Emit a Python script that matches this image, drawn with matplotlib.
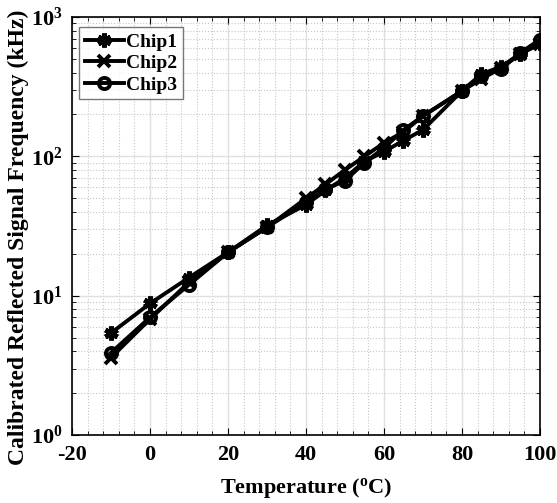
import matplotlib.pyplot as plt
import numpy as np
from matplotlib.ticker import MultipleLocator, LogLocator, NullFormatter

plt.rcParams['font.family'] = ['Liberation Serif', 'DejaVu Serif']
plt.rcParams['font.weight'] = 'bold'
plt.rcParams['axes.unicode_minus'] = False
plt.rcParams['mathtext.fontset'] = 'custom'
plt.rcParams['mathtext.rm'] = 'Liberation Serif:bold'
plt.rcParams['mathtext.it'] = 'Liberation Serif:bold'
plt.rcParams['mathtext.bf'] = 'Liberation Serif:bold'

temp = [-10, 0, 10, 20, 30, 40, 45, 50, 55, 60, 65, 70, 80, 85, 90, 95, 100]
chip1 = [5.4, 8.8, 13.5, 20.5, 32, 45, 57, 70, 92, 108, 130, 155, 295, 390, 440, 545, 650]
chip2 = [3.6, 6.8, 12.5, 20.5, 31, 50, 63, 80, 100, 125, 150, 195, 295, 360, 430, 545, 640]
chip3 = [3.9, 7.0, 12.0, 20.5, 31, 47, 58, 67, 90, 115, 155, 195, 295, 380, 425, 555, 690]

fig = plt.figure(figsize=(5.57, 5.03), dpi=100)
ax = fig.add_axes([0.1293, 0.135, 0.840, 0.831])

ax.plot(temp, chip1, color='black', lw=2.8, marker=(6, 2, 0), ms=10, mew=3.5, label='Chip1')
ax.plot(temp, chip2, color='black', lw=2.8, marker='x', ms=8, mew=2.8, label='Chip2')
ax.plot(temp, chip3, color='black', lw=2.8, marker='o', ms=8, mew=2.8, mfc='none', label='Chip3')

ax.set_yscale('log')
ax.set_xlim(-20, 100)
ax.set_ylim(1, 1000)
ax.xaxis.set_major_locator(MultipleLocator(20))
ax.xaxis.set_minor_locator(MultipleLocator(4))
ax.yaxis.set_major_locator(LogLocator(base=10, numticks=10))
ax.yaxis.set_minor_locator(LogLocator(base=10, subs=np.arange(2, 10), numticks=10))
ax.yaxis.set_minor_formatter(NullFormatter())

ax.grid(which='major', color='#e0e0e0', lw=1)
ax.grid(which='minor', color='#c8c8c8', lw=0.8, ls=':')
ax.set_axisbelow(True)
ax.tick_params(which='both', direction='in', top=True, right=True, labelsize=16)
ax.tick_params(which='major', length=5, pad=7)
ax.tick_params(which='minor', length=3)
for s in ax.spines.values():
    s.set_linewidth(1.2)

ax.set_xlabel(r'Temperature ($\mathregular{^o}$C)', fontsize=16, fontweight='bold', labelpad=8)
ax.set_ylabel('Calibrated Reflected Signal Frequency (kHz)', fontsize=17, fontweight='bold')
ax.yaxis.set_label_coords(-0.092, 0.474)

leg = ax.legend(loc='upper left', fontsize=14, fancybox=False, edgecolor='#555555',
                handlelength=2.0, handletextpad=0.1, borderpad=0.3, labelspacing=0.2,
                borderaxespad=0, bbox_to_anchor=(0.015, 0.976))
leg.get_frame().set_linewidth(1)

fig.savefig('out.png', dpi=100)
